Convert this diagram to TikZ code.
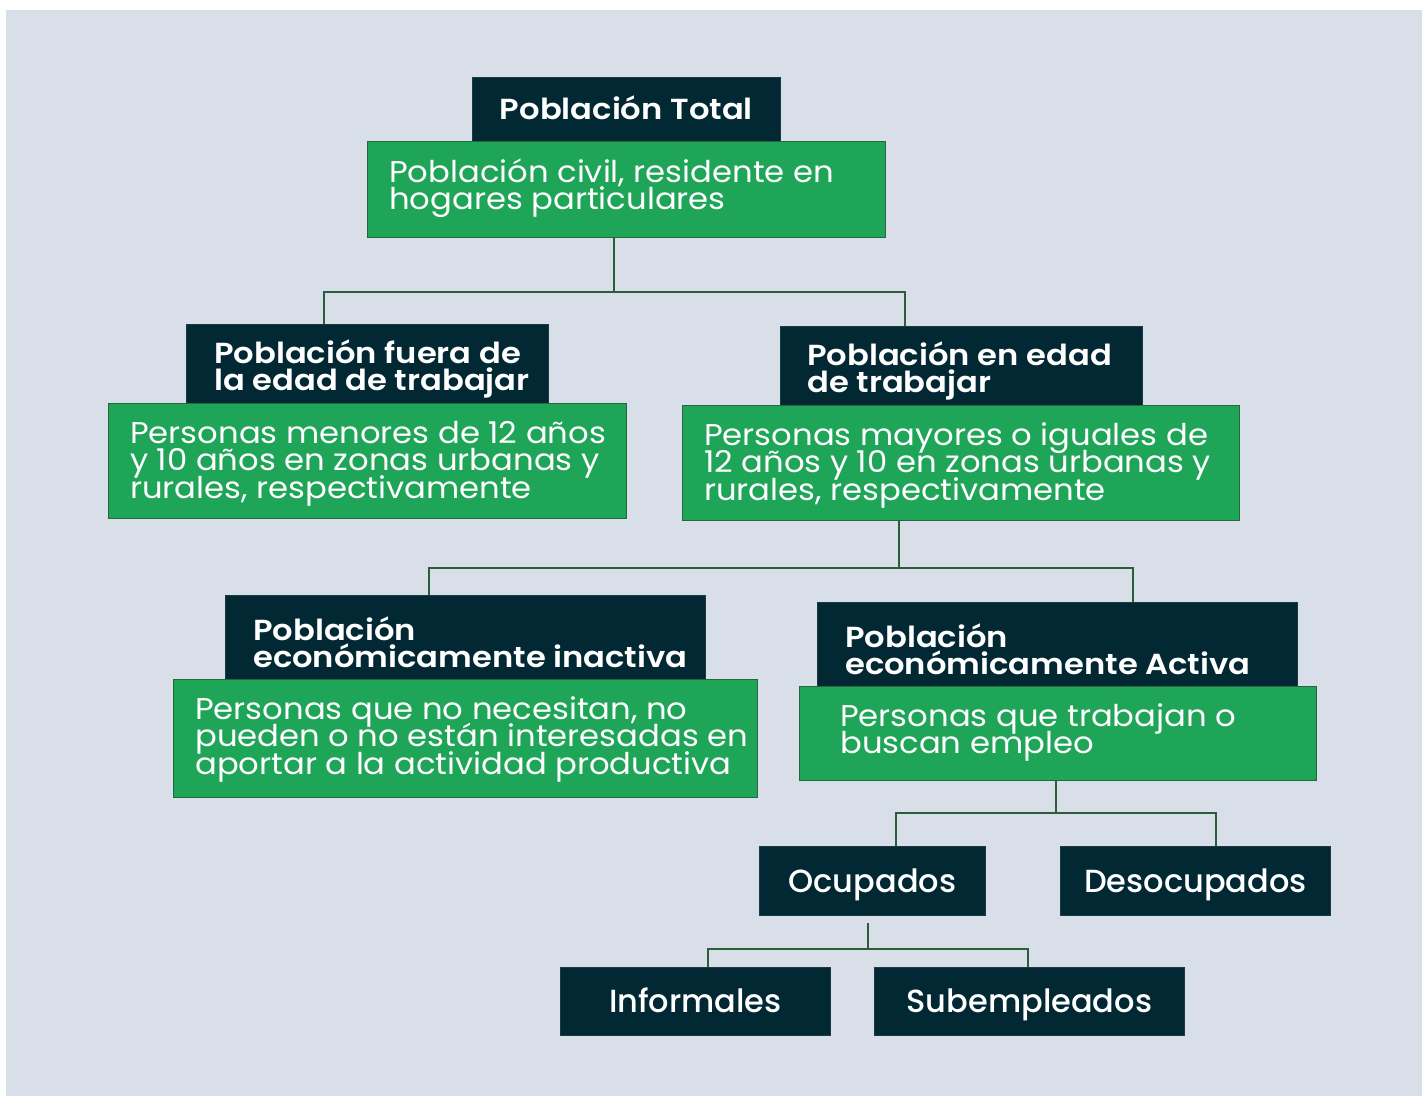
\documentclass[tikz,border=0pt]{standalone}
\usepackage{fontspec}
\setmainfont{Poppins}
\newfontfamily\gfont{Poppins}[FakeStretch=1.075]
\newfontfamily\tfont{Poppins SemiBold}[FakeStretch=1.11]
\newfontfamily\lfont{Poppins Medium}[FakeStretch=1.0]
\definecolor{bgc}{RGB}{216,223,233}
\definecolor{darkc}{RGB}{2,41,51}
\definecolor{greenc}{RGB}{31,165,88}
\definecolor{greenb}{RGB}{40,100,62}
\definecolor{connc}{RGB}{45,94,58}
\newcommand{\lines}[2]{\parbox[t]{#1}{\lineskiplimit=-100pt\lineskip=0pt\raggedright #2}}
\begin{document}
\begin{tikzpicture}[x=1pt,y=-1pt,
  darkbox/.style={draw=darkc!80!gray,line width=0.8pt,fill=darkc,inner sep=0pt,anchor=north west,text=white},
  greenbox/.style={draw=greenb,line width=1.2pt,fill=greenc,inner sep=0pt,anchor=north west},
  conn/.style={draw=connc,line width=2.4pt},
  gtxt/.style={inner sep=0pt,anchor=base west,text=white,font=\gfont\fontsize{30}{27.5}\selectfont},
  dtxt/.style={inner sep=0pt,anchor=base west,text=white,font=\tfont\fontsize{29}{27.5}\selectfont},
  ttxt/.style={font=\tfont\fontsize{29}{30}\selectfont,text height=21pt,text depth=0pt},
  stxt/.style={font=\lfont\fontsize{32}{34}\selectfont,text height=22.5pt,text depth=0pt}
]
\useasboundingbox (0,0) rectangle (1422,1096);
\fill[white] (0,0) rectangle (1422,1096);
\fill[bgc] (6,10) rectangle (1422,1096);

% level 0
\node[darkbox,minimum width=308pt,minimum height=64pt,ttxt] (tot) at (472,77) {Población Total};
\node[greenbox,minimum width=518pt,minimum height=96pt] (civ) at (367,141) {};
\node[gtxt] (civt) at (389,182) {\lines{520pt}{Población civil, residente en\\hogares particulares}};

% level 1
\node[darkbox,minimum width=362pt,minimum height=79pt] (fuera) at (186,324) {};
\node[dtxt] (fuerat) at (214,363) {\lines{400pt}{Población fuera de\\la edad de trabajar}};
\node[greenbox,minimum width=518pt,minimum height=115pt] (fuerag) at (108,403) {};
\node[gtxt] (fuerags) at (130,443) {\lines{520pt}{Personas menores de 12 años\\y 10 años en zonas urbanas y\\rurales, respectivamente}};

\node[darkbox,minimum width=362pt,minimum height=79pt] (edad) at (780,326) {};
\node[dtxt] (edadt) at (807,365) {\lines{400pt}{Población en edad\\de trabajar}};
\node[greenbox,minimum width=557pt,minimum height=115pt] (edadg) at (682,405) {};
\node[gtxt] (edadgs) at (704,445) {\lines{560pt}{Personas mayores o iguales de\\12 años y 10 en zonas urbanas y\\rurales, respectivamente}};

% level 2
\node[darkbox,minimum width=480pt,minimum height=84pt] (inact) at (225,595) {};
\node[dtxt] (inactt) at (253,640) {\lines{480pt}{Población\\económicamente inactiva}};
\node[greenbox,minimum width=584pt,minimum height=118pt] (inactg) at (173,679) {};
\node[gtxt] (inactgs) at (195,719) {\lines{600pt}{Personas que no necesitan, no\\pueden o no están interesadas en\\aportar a la actividad productiva}};

\node[darkbox,minimum width=480pt,minimum height=84pt] (activ) at (817,602) {};
\node[dtxt] (activt) at (845,647) {\lines{480pt}{Población\\económicamente Activa}};
\node[greenbox,minimum width=517pt,minimum height=94pt] (activg) at (799,686) {};
\node[gtxt] (activgs) at (840,726) {\lines{500pt}{Personas que trabajan o\\buscan empleo}};

% level 3
\node[darkbox,minimum width=226pt,minimum height=69pt,stxt] (ocup) at (759,846) {Ocupados};
\node[darkbox,minimum width=270pt,minimum height=69pt,stxt] (desoc) at (1060,846) {Desocupados};

% level 4
\node[darkbox,minimum width=270pt,minimum height=68pt,stxt] (inf) at (560,967) {Informales};
\node[darkbox,minimum width=310pt,minimum height=68pt,stxt] (sub) at (874,967) {Subempleados};

% connectors
\coordinate (j1) at (614,292);
\coordinate (a1) at (324,0);
\coordinate (a2) at (905,0);
\draw[conn] (civ.south -| j1) -- (j1);
\draw[conn] (fuera.north -| a1) |- (j1) -| (edad.north -| a2);

\coordinate (j2) at (899,568);
\coordinate (b1) at (429,0);
\coordinate (b2) at (1133,0);
\draw[conn] (edadg.south -| j2) -- (j2);
\draw[conn] (inact.north -| b1) |- (j2) -| (activ.north -| b2);

\coordinate (j3) at (1056,813);
\coordinate (c1) at (896,0);
\coordinate (c2) at (1216,0);
\draw[conn] (activg.south -| j3) -- (j3);
\draw[conn] (ocup.north -| c1) |- (j3) -| (desoc.north -| c2);

\coordinate (j4) at (868,949);
\coordinate (d1) at (708,0);
\coordinate (d2) at (1028,0);
\draw[conn] ([yshift=-7pt]ocup.south -| j4) -- (j4);
\draw[conn] (inf.north -| d1) |- (j4) -| (sub.north -| d2);
\end{tikzpicture}
\end{document}
